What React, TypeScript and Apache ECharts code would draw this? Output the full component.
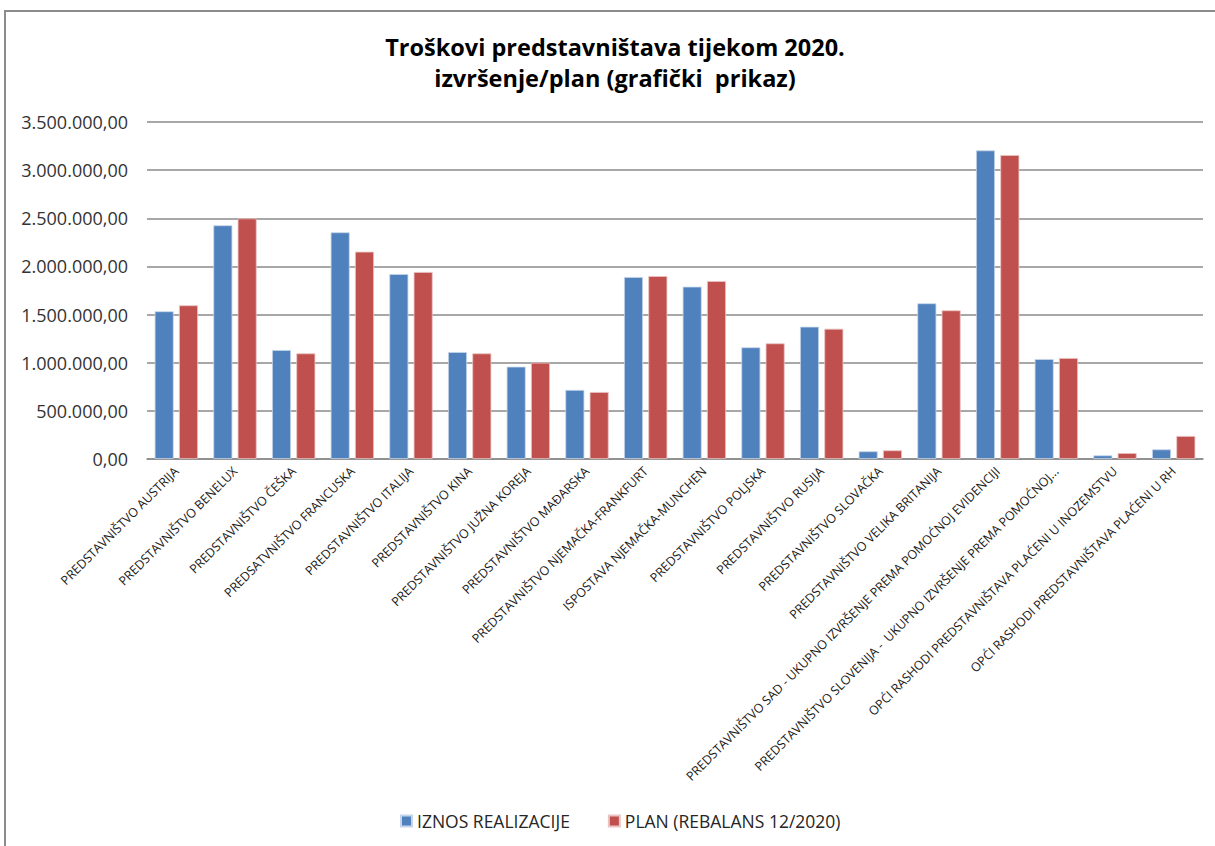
import React, { useEffect, useRef } from "react";
import * as echarts from "echarts";

const categories = [
  "PREDSTAVNIŠTVO AUSTRIJA",
  "PREDSTAVNIŠTVO BENELUX",
  "PREDSTAVNIŠTVO ČEŠKA",
  "PREDSATVNIŠTVO FRANCUSKA",
  "PREDSTAVNIŠTVO ITALIJA",
  "PREDSTAVNIŠTVO KINA",
  "PREDSTAVNIŠTVO JUŽNA KOREJA",
  "PREDSTAVNIŠTVO MAĐARSKA",
  "PREDSTAVNIŠTVO NJEMAČKA-FRANKFURT",
  "ISPOSTAVA NJEMAČKA-MUNCHEN",
  "PREDSTAVNIŠTVO POLJSKA",
  "PREDSTAVNIŠTVO RUSIJA",
  "PREDSTAVNIŠTVO SLOVAČKA",
  "PREDSTAVNIŠTVO VELIKA BRITANIJA",
  "PREDSTAVNIŠTVO SAD - UKUPNO IZVRŠENJE PREMA POMOĆNOJ EVIDENCIJI",
  "PREDSTAVNIŠTVO SLOVENIJA -  UKUPNO IZVRŠENJE PREMA POMOĆNOJ...",
  "OPĆI RASHODI PREDSTAVNIŠTAVA PLAĆENI U INOZEMSTVU",
  "OPĆI RASHODI PREDSTAVNIŠTAVA PLAĆENI U RH",
];

const iznosRealizacije = [
  1534000, 2427000, 1132000, 2354000, 1921000, 1111000, 959000, 717000,
  1890000, 1790000, 1160000, 1374000, 80000, 1617000, 3205000, 1038000,
  38000, 100000,
];

const planRebalans = [
  1596000, 2499000, 1097000, 2153000, 1942000, 1097000, 1000000, 696000,
  1900000, 1848000, 1201000, 1353000, 90000, 1544000, 3157000, 1049000,
  62000, 239000,
];

const seriesNames = ["IZNOS REALIZACIJE", "PLAN (REBALANS 12/2020)"];
const titleLines = ["Troškovi predstavništava tijekom 2020.", "izvršenje/plan (grafički  prikaz)"];

const yMin = 0;
const yMax = 3500000;
const yStep = 500000;

function formatHr(v: number): string {
  const s = Math.round(v).toString().replace(/\B(?=(\d{3})+(?!\d))/g, ".");
  return s + ",00";
}

const FONT = "'Open Sans', 'Noto Sans', sans-serif";

export default function App() {
  const ref = useRef<HTMLDivElement>(null);

  useEffect(() => {
    if (!ref.current) return;
    const chart = echarts.init(ref.current, undefined, { renderer: "svg" });
    chart.setOption({
      animation: false,
      backgroundColor: "#ffffff",
      textStyle: { fontFamily: FONT },
      graphic: [
        {
          type: "text",
          x: 615,
          y: 31,
          silent: true,
          style: {
            text: titleLines.join("\n"),
            align: "center",
            verticalAlign: "top",
            fontFamily: FONT,
            fontSize: 23.5,
            fontWeight: "bold",
            lineHeight: 31,
            fill: "#000000",
          },
        },
      ],
      legend: {
        bottom: 11,
        left: 395,
        itemWidth: 11,
        itemHeight: 11,
        itemGap: 38,
        icon: "rect",
        textStyle: { fontFamily: FONT, fontSize: 17.5, color: "#262626" },
        data: seriesNames,
      },
      grid: {
        left: 147,
        right: 12,
        top: 122,
        bottom: 387,
        containLabel: false,
      },
      xAxis: {
        type: "category",
        data: categories,
        axisTick: { show: false },
        axisLine: { lineStyle: { color: "#8a8a8a", width: 1.5 } },
        axisLabel: {
          interval: 0,
          rotate: 45,
          margin: 10,
          fontFamily: FONT,
          fontSize: 12.5,
          color: "#1a1a1a",
        },
      },
      yAxis: {
        type: "value",
        min: yMin,
        max: yMax,
        interval: yStep,
        axisLine: { show: false },
        axisTick: { show: false },
        splitLine: { lineStyle: { color: "#8a8a8a", width: 1.5 } },
        axisLabel: {
          margin: 19,
          fontFamily: FONT,
          fontSize: 18,
          color: "#333333",
          formatter: (v: number) => formatHr(v),
        },
      },
      series: [
        {
          name: seriesNames[0],
          type: "bar",
          data: iznosRealizacije,
          barWidth: 19,
          barGap: "28%",
          itemStyle: { color: "#4F81BD", borderColor: "#c6d6ea", borderWidth: 0.8 },
        },
        {
          name: seriesNames[1],
          type: "bar",
          data: planRebalans,
          barWidth: 19,
          barGap: "28%",
          itemStyle: { color: "#C0504D", borderColor: "#eac4c3", borderWidth: 0.8 },
        },
      ],
    });
    return () => chart.dispose();
  }, []);

  return (
    <div style={{ position: "fixed", left: 0, top: 0, width: 1215, height: 846, overflow: "hidden", background: "#fff" }}>
      <div ref={ref} style={{ position: "absolute", left: 0, top: 0, width: 1215, height: 846 }} />
      <div
        style={{
          position: "absolute",
          left: 4,
          top: 10,
          width: 1400,
          height: 1000,
          border: "2px solid #8c8c8c",
          pointerEvents: "none",
        }}
      />
    </div>
  );
}
